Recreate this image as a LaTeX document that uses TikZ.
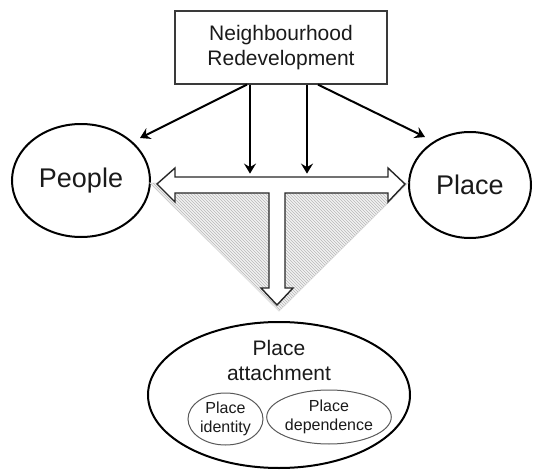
\documentclass[tikz,border=0pt]{standalone}
\usepackage{fontspec}
\setmainfont{Liberation Sans}
\usetikzlibrary{shapes.geometric,arrows.meta,patterns,calc}
\definecolor{txt}{HTML}{1A1A1A}
\definecolor{boxline}{HTML}{3A3A3A}
\tikzset{
  bigoval/.style={ellipse,draw=black,line width=2pt,inner sep=0pt,text=txt},
  smalloval/.style={ellipse,draw=black!65,line width=1pt,inner sep=0pt,text=txt,align=center,font=\fontsize{16}{19.5}\selectfont},
  arr/.style={draw=black,line width=2pt,-{Stealth[length=10pt,width=12pt,inset=3.5pt]}},
  blockarrow/.style={draw=black!85,line width=1.4pt,fill=white,line join=miter},
  hatchfill/.style={fill=black!5,draw=black!12,line width=1pt},
  hatch/.style={pattern=north west lines,pattern color=black!28}
}
\begin{document}
\begin{tikzpicture}[x=1pt,y=-1pt]
\useasboundingbox (0,0) rectangle (539,471);
% top box
\node[draw=boxline,line width=1.2pt,minimum width=212pt,minimum height=73pt,inner sep=0pt,
      align=center,text=txt,font=\fontsize{21}{25}\selectfont] (box) at (281,47.5)
      {Neighbourhood\\Redevelopment};
% ellipses
\node[bigoval,minimum width=138pt,minimum height=113pt,font=\fontsize{27}{30}\selectfont] (people) at (81,180.5) {People};
\node[bigoval,minimum width=122pt,minimum height=106pt,font=\fontsize{27}{30}\selectfont] (place) at (470,185) {Place};
\node[bigoval,minimum width=262pt,minimum height=146pt] (attach) at (279,395) {};
\node[align=center,text=txt,font=\fontsize{21}{25}\selectfont] (attachtxt) at (279,360) {Place\\attachment};
\node[smalloval,minimum width=75pt,minimum height=52pt] (ident) at (225.5,419) {Place\\identity};
\node[smalloval,minimum width=108pt,minimum height=54pt] (depend) at (329,417) {Place\\dependence};
% hatched triangle
\path[hatchfill] (150,183) -- (408,183) -- (279,311) -- cycle;
\path[hatch] (150,183) -- (408,183) -- (279,311) -- cycle;
% T-shaped block arrow
\path[blockarrow] (157,184) -- (175,168) -- (175,177) -- (388,177) -- (388,168) -- (405,184)
  -- (388,202) -- (388,193) -- (285,193) -- (285,288) -- (293,288) -- (277,305)
  -- (261,288) -- (269,288) -- (269,193) -- (175,193) -- (175,202) -- cycle;
% connectors
\coordinate (s1) at ($(box.south)+(-34,0)$);
\coordinate (s2) at ($(box.south)+(-31,0)$);
\coordinate (s3) at ($(box.south)+(26,0)$);
\coordinate (s4) at ($(box.south)+(37,0)$);
\coordinate (e1) at (140,138);
\coordinate (e2) at ($(s2)+(0,89)$);
\coordinate (e3) at ($(s3)+(0,89)$);
\coordinate (e4) at (425,137);
\draw[arr] (s1) -- (e1);
\draw[arr] (s2) -- (e2);
\draw[arr] (s3) -- (e3);
\draw[arr] (s4) -- (e4);
\end{tikzpicture}
\end{document}
